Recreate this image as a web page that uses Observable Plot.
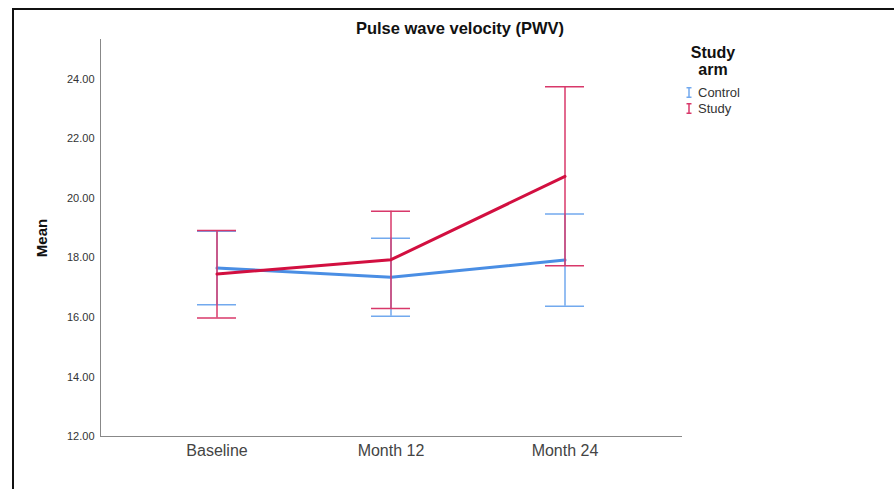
<!DOCTYPE html>
<html>
<head>
<meta charset="utf-8">
<script src="https://cdn.jsdelivr.net/npm/d3@7"></script>
<script src="https://cdn.jsdelivr.net/npm/@observablehq/plot@0.6"></script>
<style>
  html, body { margin: 0; padding: 0; background: #fff; }
  #wrap { position: relative; width: 894px; height: 489px; overflow: hidden; font-family: "Liberation Sans", Arial, sans-serif; }
  #border { position: absolute; left: 12px; top: 8px; width: 1000px; height: 1000px; border-left: 2px solid #111; border-top: 2px solid #111; }
  #title { position: absolute; left: 0; width: 920px; top: 19px; text-align: center; font-weight: bold; font-size: 16.5px; color: #111; }
  #legend { position: absolute; left: 679px; top: 44px; font-size: 13px; color: #333; }
  #legend .lt { width: 68px; text-align: center; font-weight: bold; font-size: 16px; line-height: 17px; color: #111; margin-bottom: 6px; }
  #legend .it { display: flex; align-items: center; height: 16px; margin-left: 7px; }
  #legend svg { margin-right: 6px; }
  #chart { position: absolute; left: 0; top: 0; }
  #chart svg text { fill: #333; }
  #chart g[aria-label="y-axis label"] text { font-weight: bold; font-size: 15px; fill: #111; }
  #chart g[aria-label="x-axis tick label"] text { font-size: 16px; fill: #444; }
</style>
</head>
<body>
<div id="wrap">
  <div id="chart"></div>
  <div id="border"></div>
  <div id="title">Pulse wave velocity (PWV)</div>
  <div id="legend"></div>
</div>
<script>
const timepoints = ["Baseline", "Month 12", "Month 24"];
const arms = ["Control", "Study"];
const controlMean = [17.66, 17.35, 17.93];
const controlLow  = [16.43, 16.04, 16.38];
const controlHigh = [18.90, 18.66, 19.48];
const studyMean   = [17.46, 17.94, 20.74];
const studyLow    = [15.98, 16.30, 17.74];
const studyHigh   = [18.92, 19.57, 23.75];
const yTicks = [12, 14, 16, 18, 20, 22, 24];

const lineColor = {Control: "#4a8ee4", Study: "#d20f40"};
const barColor = {Control: "#72a9ee", Study: "#d8386a"};

const rows = [];
timepoints.forEach((t, i) => {
  rows.push({arm: "Control", time: t, mean: controlMean[i], low: controlLow[i], high: controlHigh[i]});
});
timepoints.forEach((t, i) => {
  rows.push({arm: "Study", time: t, mean: studyMean[i], low: studyLow[i], high: studyHigh[i]});
});
const ctrl = rows.filter(d => d.arm === "Control");
const stud = rows.filter(d => d.arm === "Study");

const chart = Plot.plot({
  width: 894,
  height: 489,
  marginLeft: 100,
  marginRight: 213,
  marginTop: 39,
  marginBottom: 53,
  style: {fontFamily: "'Liberation Sans', Arial, sans-serif", fontSize: "11px", color: "#888", background: "transparent"},
  x: {type: "band", domain: timepoints, paddingInner: 0.776, paddingOuter: 0.557, line: true, tickSize: 0, tickPadding: 8, label: null},
  y: {domain: [12, 25.34], ticks: yTicks, tickFormat: d3.format(".2f"), tickSize: 0, tickPadding: 6, line: true, label: "Mean", labelArrow: "none", labelAnchor: "center", labelOffset: 64},
  marks: [
    Plot.ruleX(ctrl, {x: "time", y1: "low", y2: "high", stroke: barColor.Control, strokeWidth: 1.5}),
    Plot.tickY(ctrl, {x: "time", y: "low", stroke: barColor.Control, strokeWidth: 1.5}),
    Plot.tickY(ctrl, {x: "time", y: "high", stroke: barColor.Control, strokeWidth: 1.5}),
    Plot.line(ctrl, {x: "time", y: "mean", stroke: lineColor.Control, strokeWidth: 3}),
    Plot.ruleX(stud, {x: "time", y1: "low", y2: "high", stroke: barColor.Study, strokeWidth: 1.5}),
    Plot.tickY(stud, {x: "time", y: "low", stroke: barColor.Study, strokeWidth: 1.5}),
    Plot.tickY(stud, {x: "time", y: "high", stroke: barColor.Study, strokeWidth: 1.5}),
    Plot.line(stud, {x: "time", y: "mean", stroke: lineColor.Study, strokeWidth: 3})
  ]
});
document.getElementById("chart").appendChild(chart);

const legend = document.getElementById("legend");
legend.innerHTML = '<div class="lt">Study<br>arm</div>' + arms.map(a =>
  `<div class="it"><svg width="6" height="11"><line x1="0.5" y1="0.75" x2="5.5" y2="0.75" stroke="${barColor[a]}" stroke-width="1.5"/><line x1="3" y1="0.75" x2="3" y2="10.25" stroke="${barColor[a]}" stroke-width="1.5"/><line x1="0.5" y1="10.25" x2="5.5" y2="10.25" stroke="${barColor[a]}" stroke-width="1.5"/></svg>${a}</div>`
).join("");
</script>
</body>
</html>
